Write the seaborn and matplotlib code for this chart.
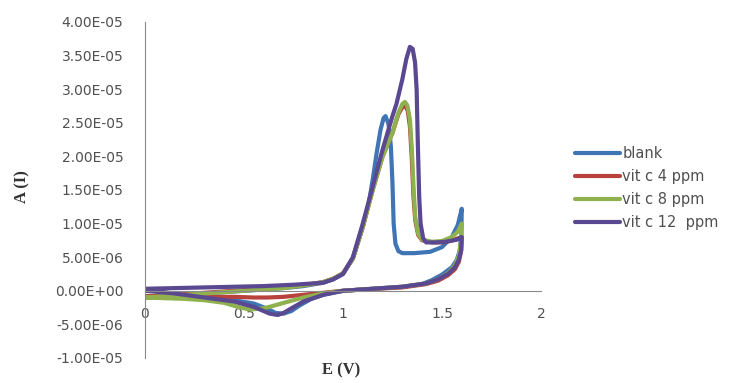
import seaborn as sns
import matplotlib.pyplot as plt
import matplotlib.ticker as mticker
import pandas as pd

# cyclic voltammograms (E in V, I in units of 1e-6)
blank_E = [0, 0.1, 0.2, 0.3, 0.4, 0.5, 0.6, 0.7, 0.8, 0.9, 0.95, 1.0, 1.05, 1.1, 1.13, 1.15,
           1.17, 1.19, 1.205, 1.215, 1.23, 1.242, 1.25, 1.256, 1.265, 1.28, 1.3, 1.36, 1.44,
           1.5, 1.55, 1.58, 1.6,
           1.598, 1.59, 1.575, 1.55, 1.5, 1.45, 1.4, 1.3, 1.2, 1.1, 1.0, 0.9, 0.84, 0.78,
           0.74, 0.7, 0.66, 0.62, 0.55, 0.45, 0.35, 0.25, 0.12, 0.0]
blank_I = [-1.0, -0.8, -0.6, -0.4, -0.2, 0.0, 0.2, 0.4, 0.7, 1.2, 1.7, 2.5, 4.8, 9.5, 13, 16.5,
           20.5, 24, 25.7, 26, 24.8, 21.5, 16, 10, 7, 5.9, 5.6, 5.6, 5.8,
           6.5, 8, 9.8, 12.2,
           8.5, 6, 4.6, 3.5, 2.4, 1.6, 1.0, 0.6, 0.4, 0.2, 0.0, -0.6, -1.2, -2.2,
           -3.0, -3.4, -3.3, -2.7, -1.9, -1.4, -1.2, -1.1, -1.0, -1.0]

c4_E = [0, 0.1, 0.2, 0.3, 0.4, 0.5, 0.6, 0.7, 0.8, 0.9, 0.95, 1.0, 1.05, 1.1, 1.15, 1.2,
        1.25, 1.28, 1.3, 1.315, 1.327, 1.338, 1.347, 1.356, 1.365, 1.38, 1.4, 1.45, 1.5,
        1.55, 1.58, 1.6,
        1.597, 1.585, 1.565, 1.53, 1.48, 1.42, 1.3, 1.1, 1.0, 0.9, 0.8, 0.7, 0.62, 0.55,
        0.45, 0.35, 0.2, 0.1, 0.0]
c4_I = [-0.9, -0.7, -0.5, -0.3, -0.1, 0.1, 0.3, 0.5, 0.8, 1.3, 1.8, 2.6, 4.8, 9.5, 15, 20,
        23.5, 26.3, 27.3, 27.5, 26.8, 24.5, 20, 14, 10.5, 8.3, 7.5, 7.2, 7.2,
        7.5, 7.8, 8,
        6, 4.3, 3.2, 2.3, 1.5, 1.0, 0.5, 0.2, 0.0, -0.3, -0.6, -0.9, -1.0, -1.0,
        -0.9, -0.9, -0.8, -0.8, -0.8]

c8_E = [0, 0.1, 0.2, 0.3, 0.4, 0.5, 0.6, 0.7, 0.8, 0.9, 0.95, 1.0, 1.05, 1.1, 1.15, 1.2,
        1.25, 1.28, 1.3, 1.313, 1.325, 1.338, 1.348, 1.357, 1.365, 1.38, 1.4, 1.45, 1.5,
        1.55, 1.58, 1.6,
        1.597, 1.585, 1.565, 1.53, 1.48, 1.42, 1.3, 1.1, 1.0, 0.9, 0.8, 0.7, 0.64, 0.6,
        0.53, 0.47, 0.4, 0.3, 0.2, 0.1, 0.0]
c8_I = [-1.0, -0.8, -0.6, -0.4, -0.2, 0.0, 0.2, 0.4, 0.8, 1.3, 1.8, 2.6, 4.8, 9.5, 15, 20,
        23.5, 26.5, 27.8, 28.1, 27.6, 25.5, 21, 15, 11, 8.5, 7.6, 7.3, 7.4,
        8, 8.8, 10,
        7.5, 5.2, 3.8, 2.6, 1.7, 1.1, 0.6, 0.2, 0.0, -0.4, -1.0, -1.8, -2.3, -2.6,
        -2.8, -2.4, -1.8, -1.4, -1.2, -1.1, -1.0]

c12_E = [0, 0.15, 0.3, 0.45, 0.6, 0.75, 0.9, 0.95, 1.0, 1.05, 1.07, 1.1, 1.15, 1.2, 1.25,
         1.27, 1.3, 1.32, 1.338, 1.352, 1.364, 1.372, 1.378, 1.385, 1.392, 1.405, 1.42,
         1.47, 1.52, 1.575, 1.6,
         1.597, 1.585, 1.565, 1.53, 1.48, 1.42, 1.3, 1.2, 1.1, 1.0, 0.9, 0.8, 0.74, 0.7,
         0.67, 0.63, 0.55, 0.45, 0.3, 0.15, 0.0]
c12_I = [0.3, 0.4, 0.5, 0.6, 0.7, 0.9, 1.2, 1.7, 2.5, 5, 7, 10, 15.5, 21, 26,
         27.8, 31.5, 34.5, 36.3, 36, 34, 30, 22, 14, 10, 7.8, 7.2,
         7.2, 7.3, 7.6, 8,
         6, 4.6, 3.5, 2.5, 1.7, 1.1, 0.6, 0.4, 0.2, 0.0, -0.6, -1.6, -2.6, -3.3,
         -3.6, -3.4, -2.4, -1.6, -1.0, -0.4, 0.0]

labels = ["blank", "vit c 4 ppm", "vit c 8 ppm", "vit c 12  ppm"]
colors = ["#3F74B5", "#B8413E", "#8FB24E", "#5A4890"]
yticks = [-1e-5, -5e-6, 0, 5e-6, 1e-5, 1.5e-5, 2e-5, 2.5e-5, 3e-5, 3.5e-5, 4e-5]
xticks = [0, 0.5, 1, 1.5, 2]

frames = []
for lab, E, I in zip(labels, [blank_E, c4_E, c8_E, c12_E], [blank_I, c4_I, c8_I, c12_I]):
    frames.append(pd.DataFrame({"E": E, "I": [v * 1e-6 for v in I], "series": lab}))
df = pd.concat(frames, ignore_index=True)

sns.set_style("white")
fig = plt.figure(figsize=(7.36, 3.83), dpi=100)
ax = fig.add_axes([0.197, 0.0653, 0.538, 0.8773])

sns.lineplot(data=df, x="E", y="I", hue="series", hue_order=labels, palette=colors,
             sort=False, estimator=None, lw=3, ax=ax)
for ln in ax.lines:
    ln.set_solid_joinstyle("round")

ax.set_xlim(0, 2)
ax.set_ylim(-1e-5, 4e-5)
ax.set_xticks(xticks)
ax.set_xticklabels(["0", "0.5", "1", "1.5", "2"])
ax.set_yticks(yticks)
ax.yaxis.set_major_formatter(mticker.FuncFormatter(lambda v, p: "%.2E" % v))

for s in ["top", "right"]:
    ax.spines[s].set_visible(False)
ax.spines["bottom"].set_position(("data", 0))
ax.spines["bottom"].set_color("#8a8a8a")
ax.spines["left"].set_color("#8a8a8a")
ax.tick_params(axis="both", labelsize=10, labelcolor="#505050", length=0)
ax.tick_params(axis="x", pad=12)
ax.tick_params(axis="y", pad=15.5)

ax.set_xlabel("")
ax.set_ylabel("")
fig.text(0.463, 0.034, "E (V)", ha="center", va="center", fontsize=12,
         fontweight="bold", family="Liberation Serif", color="#333333")
fig.text(0.03, 0.512, "A (I)", ha="center", va="center", fontsize=12, rotation=90,
         fontweight="bold", family="Liberation Serif", color="#333333")

leg = ax.legend(loc="upper left", bbox_to_anchor=(0.781, 0.618), bbox_transform=fig.transFigure,
                frameon=False, fontsize=10.5, handlelength=3.1, handletextpad=0.15,
                labelspacing=0.55, borderpad=0, borderaxespad=0, labelcolor="#505050")
for h in leg.get_lines():
    h.set_linewidth(3)

fig.savefig("out.png", dpi=100)
